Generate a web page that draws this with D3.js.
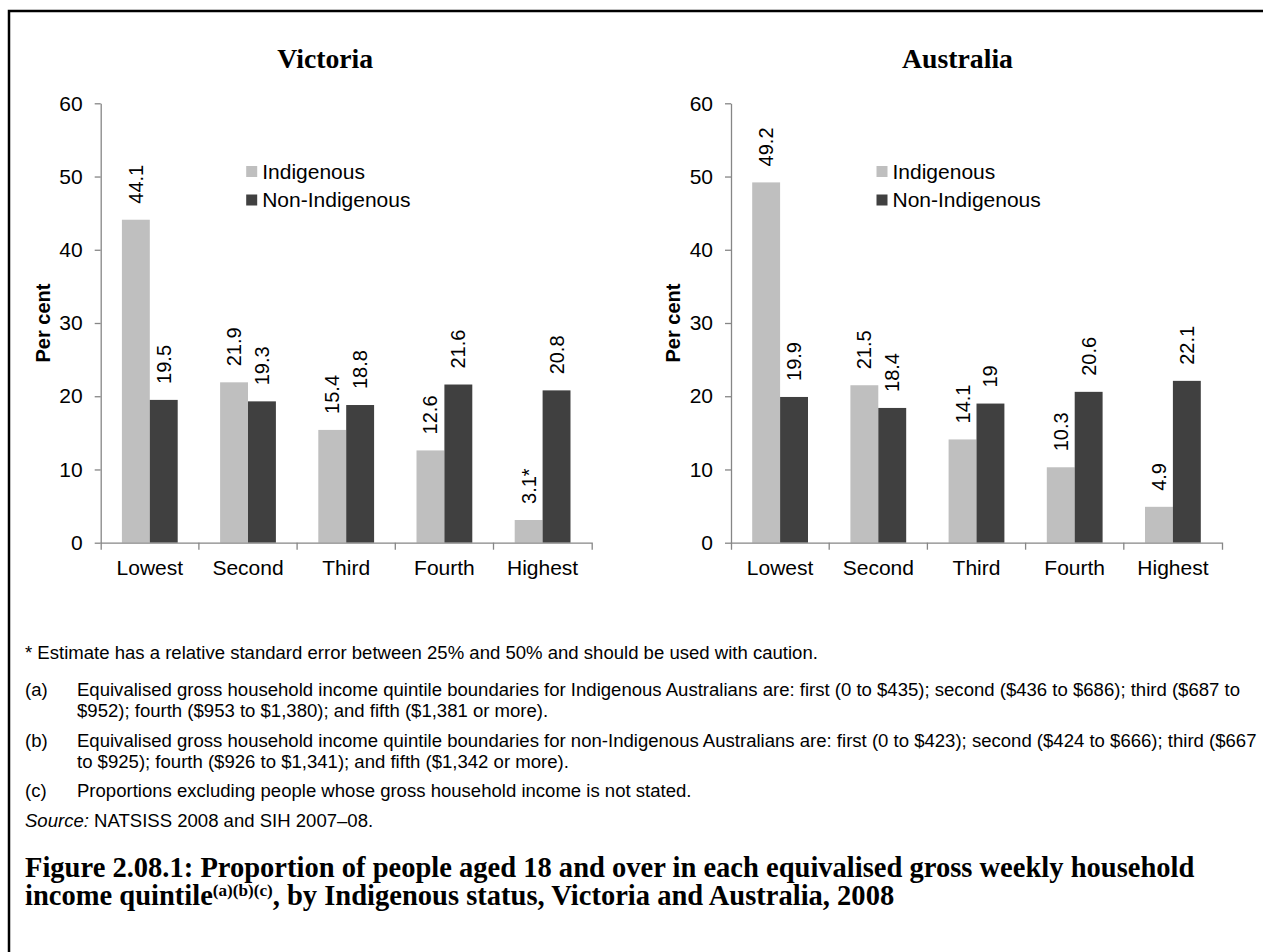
<!DOCTYPE html>
<html><head><meta charset="utf-8">
<script src="https://cdn.jsdelivr.net/npm/d3@7"></script>
<style>
html,body{margin:0;padding:0;background:#fff;}
svg{display:block;}
</style></head><body>
<svg id="c" width="1263" height="952"></svg>
<script>
// ---------- data ----------
const categories = ["Lowest", "Second", "Third", "Fourth", "Highest"];
const seriesNames = ["Indigenous", "Non-Indigenous"];
const vicIndigenous = [44.1, 21.9, 15.4, 12.6, 3.1];
const vicNonIndigenous = [19.5, 19.3, 18.8, 21.6, 20.8];
const vicIndigenousFlags = ["", "", "", "", "*"];
const ausIndigenous = [49.2, 21.5, 14.1, 10.3, 4.9];
const ausNonIndigenous = [19.9, 18.4, 19, 20.6, 22.1];
const ausIndigenousFlags = ["", "", "", "", ""];
const yTicks = [0, 10, 20, 30, 40, 50, 60];
const panelTitles = ["Victoria", "Australia"];
const yAxisTitle = "Per cent";
const noteStar = "* Estimate has a relative standard error between 25% and 50% and should be used with caution.";
const noteTags = ["(a)", "(b)", "(c)"];
const noteLines = [
  ["Equivalised gross household income quintile boundaries for Indigenous Australians are: first (0 to $435); second ($436 to $686); third ($687 to",
   "$952); fourth ($953 to $1,380); and fifth ($1,381 or more)."],
  ["Equivalised gross household income quintile boundaries for non-Indigenous Australians are: first (0 to $423); second ($424 to $666); third ($667",
   "to $925); fourth ($926 to $1,341); and fifth ($1,342 or more)."],
  ["Proportions excluding people whose gross household income is not stated."]
];
const sourceLabel = "Source:";
const sourceText = " NATSISS 2008 and SIH 2007\u201308.";
const captionLine1 = "Figure 2.08.1: Proportion of people aged 18 and over in each equivalised gross weekly household";
const captionLine2a = "income quintile";
const captionSup = "(a)(b)(c)";
const captionLine2b = ", by Indigenous status, Victoria and Australia, 2008";

// ---------- setup ----------
const W = 1263, H = 952;
const svg = d3.select("#c");
const sans = "'Liberation Sans', Arial, sans-serif";
const serif = "'Liberation Serif', 'Times New Roman', serif";
const colors = {"Indigenous": "#bfbfbf", "Non-Indigenous": "#404040"};
const axisColor = "#868686";
const fs = 21;

svg.append("rect").attr("width", W).attr("height", H).attr("fill", "#fff");
svg.append("path").attr("d", `M9,${H + 5} V11 H${W + 5}`)
  .attr("fill", "none").attr("stroke", "#000").attr("stroke-width", 2.5);

function fit(str, family, weight, target) {
  const t = svg.append("text").attr("font-family", family).attr("font-weight", weight)
    .attr("font-size", 100).text(str);
  const len = t.node().getComputedTextLength();
  t.remove();
  return 100 * target / len;
}

const y = d3.scaleLinear().domain([0, 60]).range([542.7, 103.3]);
const titleSize = fit(panelTitles[0], serif, "bold", 96);

const panels = [
  {title: panelTitles[0], x0: 100.7, ind: vicIndigenous, non: vicNonIndigenous, flags: vicIndigenousFlags, tdx: 224.5},
  {title: panelTitles[1], x0: 731, ind: ausIndigenous, non: ausNonIndigenous, flags: ausIndigenousFlags, tdx: 226.5}
];

panels.forEach(p => {
  const g = svg.append("g");
  const x = d3.scaleBand().domain(categories).range([p.x0, p.x0 + 491]);
  const bw = x.bandwidth();
  const x1 = d3.scaleBand().domain(seriesNames).range([0, bw]).paddingOuter(0.76);

  // title
  g.append("text").attr("x", p.x0 + p.tdx).attr("y", 68).attr("text-anchor", "middle")
    .attr("font-family", serif).attr("font-weight", "bold").attr("font-size", titleSize)
    .attr("fill", "#000").text(p.title);

  // y axis
  const ya = g.append("g").attr("transform", `translate(${p.x0},0)`)
    .call(d3.axisLeft(y).tickValues(yTicks).tickSize(6).tickSizeOuter(0).tickPadding(12));
  ya.select(".domain").attr("stroke", axisColor).attr("stroke-width", 1.3);
  ya.selectAll(".tick line").attr("stroke", axisColor).attr("stroke-width", 1.3);
  ya.selectAll(".tick text").attr("font-family", sans).attr("font-size", fs).attr("fill", "#000");

  // y title
  g.append("text").attr("transform", `translate(${p.x0 - 58},323) rotate(-90)`)
    .attr("text-anchor", "middle").attr("dy", "0.35em")
    .attr("font-family", sans).attr("font-weight", "bold").attr("font-size", 20)
    .attr("fill", "#000").text(yAxisTitle);

  // bars
  const rows = categories.map((c, i) => ({c, i, vals: [
    {s: seriesNames[0], v: p.ind[i], flag: p.flags[i]},
    {s: seriesNames[1], v: p.non[i], flag: ""}
  ]}));
  const grp = g.selectAll("g.cat").data(rows).join("g").attr("class", "cat")
    .attr("transform", d => `translate(${x(d.c)},0)`);
  grp.selectAll("rect").data(d => d.vals).join("rect")
    .attr("x", d => x1(d.s)).attr("width", x1.bandwidth())
    .attr("y", d => y(d.v)).attr("height", d => y(0) - y(d.v))
    .attr("fill", d => colors[d.s]);
  grp.selectAll("text.lbl").data(d => d.vals).join("text").attr("class", "lbl")
    .attr("transform", d => `translate(${x1(d.s) + x1.bandwidth() / 2},${y(d.v) - 16}) rotate(-90)`)
    .attr("dy", "0.35em").attr("text-anchor", "start")
    .attr("font-family", sans).attr("font-size", 20).attr("fill", "#000")
    .text(d => String(d.v) + d.flag);

  // x axis
  const xa = g.append("g").attr("transform", `translate(0,${y(0)})`)
    .call(d3.axisBottom(x).tickSize(0).tickSizeOuter(7).tickPadding(17));
  xa.select(".domain").attr("stroke", axisColor).attr("stroke-width", 1.3);
  xa.selectAll(".tick text").attr("font-family", sans).attr("font-size", fs).attr("fill", "#000");
  xa.selectAll("line.bound").data(categories.slice(1)).join("line").attr("class", "bound")
    .attr("x1", d => x(d)).attr("x2", d => x(d)).attr("y1", 0).attr("y2", 7)
    .attr("stroke", axisColor).attr("stroke-width", 1.3);

  // legend
  const lg = g.append("g").attr("transform", `translate(${p.x0 + 145.5},166)`);
  const li = lg.selectAll("g").data(seriesNames).join("g")
    .attr("transform", (d, i) => `translate(0,${i * 28.5})`);
  li.append("rect").attr("width", 11).attr("height", 11).attr("fill", d => colors[d]);
  li.append("text").attr("x", 16).attr("y", 5.5).attr("dy", "0.35em")
    .attr("font-family", sans).attr("font-size", fs).attr("fill", "#000").text(d => d);
});

// ---------- footnotes ----------
const noteSize = fit(noteStar, sans, "normal", 793);
const nt = svg.append("g").attr("font-family", sans).attr("font-size", noteSize).attr("fill", "#000");
nt.append("text").attr("x", 25).attr("y", 659).text(noteStar);
const noteBase = [[696, 717], [747, 768], [797]];
noteTags.forEach((tag, i) => {
  nt.append("text").attr("x", 25).attr("y", noteBase[i][0]).text(tag);
  noteLines[i].forEach((ln, j) => {
    nt.append("text").attr("x", 77).attr("y", noteBase[i][j]).text(ln);
  });
});
const src = nt.append("text").attr("x", 25).attr("y", 827);
src.append("tspan").attr("font-style", "italic").text(sourceLabel);
src.append("tspan").text(sourceText);

// ---------- caption ----------
const capSize = fit(captionLine1, serif, "bold", 1170);
const cap = svg.append("g").attr("font-family", serif).attr("font-weight", "bold")
  .attr("font-size", capSize).attr("fill", "#000");
cap.append("text").attr("x", 25).attr("y", 877).text(captionLine1);
const c2 = cap.append("text").attr("x", 25).attr("y", 905);
c2.append("tspan").text(captionLine2a);
c2.append("tspan").attr("font-size", capSize * 0.6).attr("dy", -capSize * 0.33).text(captionSup);
c2.append("tspan").attr("dy", capSize * 0.33).text(captionLine2b);
</script>
</body></html>
